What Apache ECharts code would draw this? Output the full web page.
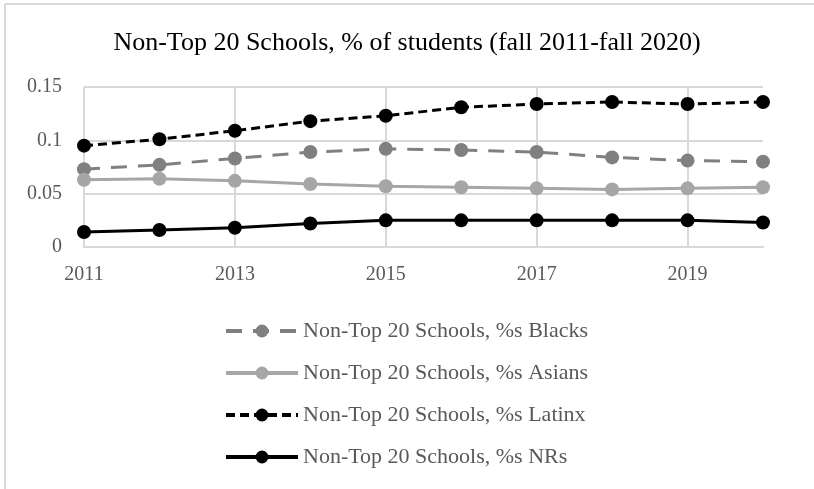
<!DOCTYPE html>
<html>
<head>
<meta charset="utf-8">
<script src="https://cdn.jsdelivr.net/npm/echarts@6/dist/echarts.min.js"></script>
<style>
html,body{margin:0;padding:0;background:#fff;overflow:hidden;}
#chart{position:absolute;left:0;top:0;width:814px;height:489px;}
</style>
</head>
<body>
<div id="chart"></div>
<script>
const years = ['2011','2012','2013','2014','2015','2016','2017','2018','2019','2020'];
const blacks = [0.073, 0.077, 0.083, 0.089, 0.092, 0.091, 0.089, 0.084, 0.081, 0.080];
const asians = [0.063, 0.064, 0.062, 0.059, 0.057, 0.056, 0.055, 0.054, 0.055, 0.056];
const latinx = [0.095, 0.101, 0.109, 0.118, 0.123, 0.131, 0.134, 0.136, 0.134, 0.136];
const nrs = [0.014, 0.016, 0.018, 0.022, 0.025, 0.025, 0.025, 0.025, 0.025, 0.023];
const yTicks = [0, 0.05, 0.1, 0.15];

const font = 'Liberation Serif';
const chart = echarts.init(document.getElementById('chart'));
function mk(name, data, color, dash) {
  return {
    name: name, type: 'line', data: data,
    symbol: 'circle', symbolSize: 14,
    itemStyle: {color: color},
    lineStyle: {color: color, width: 3, type: dash},
    emphasis: {disabled: true},
    animation: false
  };
}
chart.setOption({
  animation: false,
  graphic: [
    {type: 'line', silent: true, shape: {x1: 5, y1: 4, x2: 814, y2: 4}, style: {stroke: '#d9d9d9', lineWidth: 2}},
    {type: 'line', silent: true, shape: {x1: 5, y1: 4, x2: 5, y2: 489}, style: {stroke: '#d9d9d9', lineWidth: 2}}
  ],
  title: {
    text: 'Non-Top 20 Schools, % of students (fall 2011-fall 2020)',
    left: 'center', top: 25,
    textStyle: {fontFamily: font, fontSize: 26, fontWeight: 'normal', color: '#000'}
  },
  grid: {left: 84, right: 51, top: 87, bottom: 242, containLabel: false},
  xAxis: {
    type: 'category', data: years, boundaryGap: false,
    axisLine: {lineStyle: {color: '#d9d9d9', width: 2}},
    axisTick: {show: false},
    axisLabel: {interval: 1, fontFamily: font, fontSize: 20, color: '#595959', margin: 18},
    splitLine: {show: true, interval: 1, lineStyle: {color: '#d9d9d9', width: 2}}
  },
  yAxis: {
    type: 'value', min: 0, max: 0.15, interval: 0.05,
    axisLine: {show: false}, axisTick: {show: false},
    axisLabel: {fontFamily: font, fontSize: 20, color: '#595959', margin: 22,
      formatter: v => String(Math.round(v*100)/100)},
    splitLine: {lineStyle: {color: '#d9d9d9', width: 2}}
  },
  legend: {
    orient: 'vertical', left: 219, top: 315, itemGap: 20,
    itemWidth: 72, itemHeight: 16,
    lineStyle: {width: 4},
    textStyle: {fontFamily: font, fontSize: 22, color: '#595959', padding: [0,0,0,0]},
    data: ['Non-Top 20 Schools, %s Blacks','Non-Top 20 Schools, %s Asians','Non-Top 20 Schools, %s Latinx','Non-Top 20 Schools, %s NRs']
  },
  series: [
    mk('Non-Top 20 Schools, %s Blacks', blacks, '#808080', [16, 11]),
    mk('Non-Top 20 Schools, %s Asians', asians, '#a6a6a6', 'solid'),
    mk('Non-Top 20 Schools, %s Latinx', latinx, '#000000', [9, 5]),
    mk('Non-Top 20 Schools, %s NRs', nrs, '#000000', 'solid')
  ]
});
</script>
</body>
</html>
